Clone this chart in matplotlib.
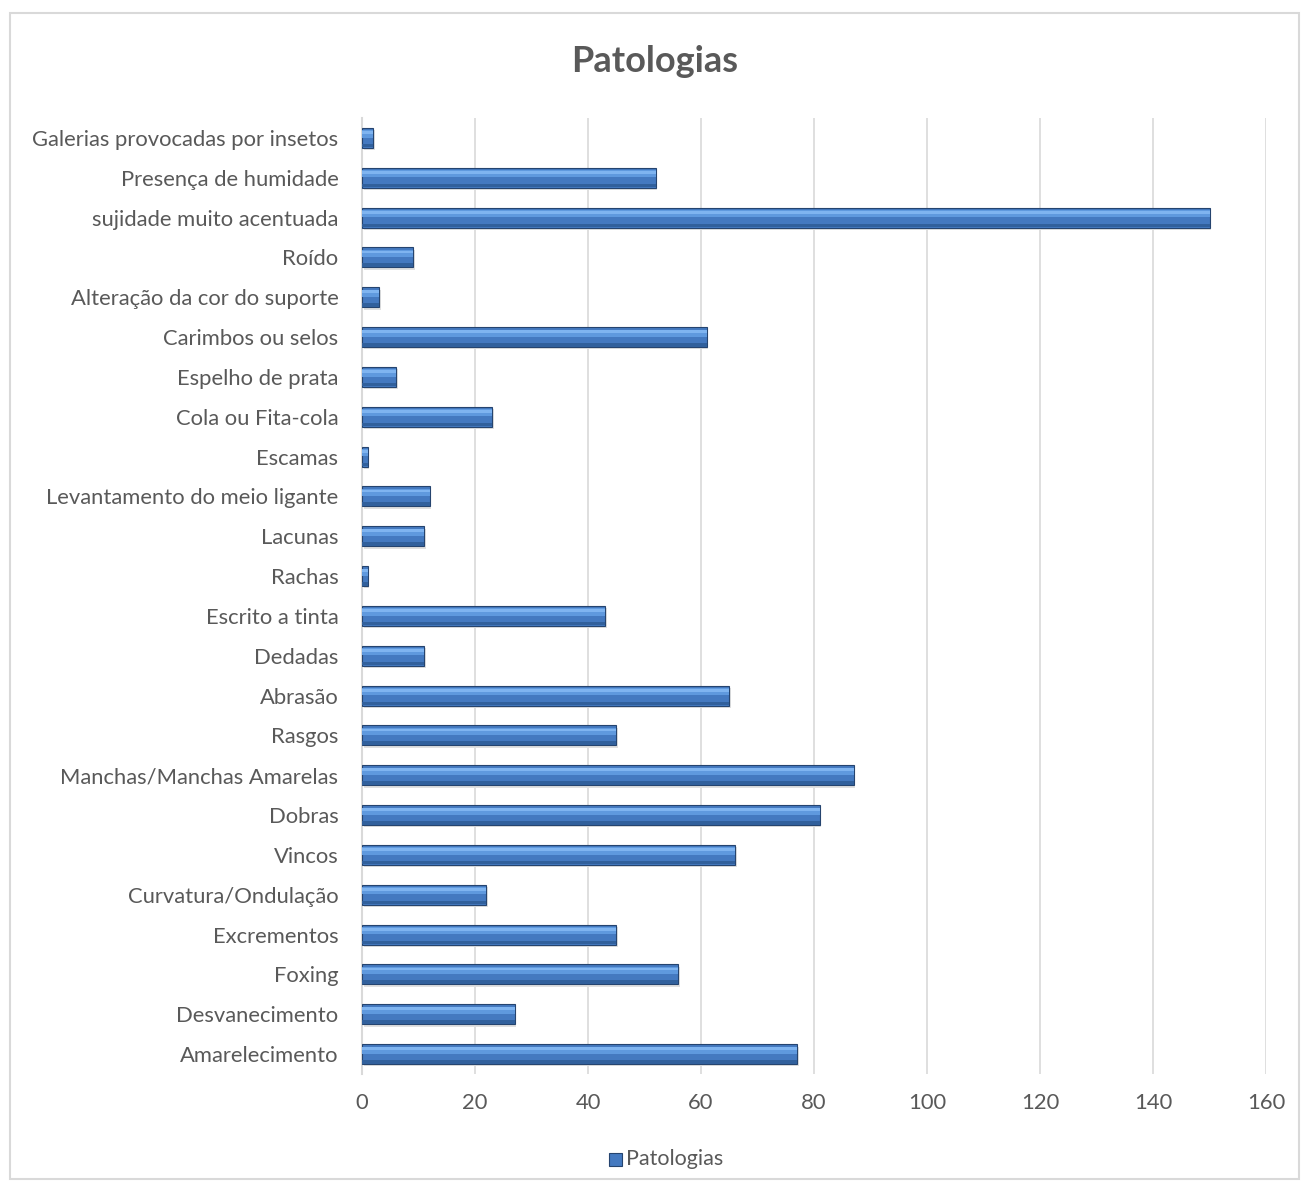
import matplotlib.pyplot as plt
from matplotlib.patches import Rectangle
import numpy as np

plt.rcParams['font.family'] = ['Lato', 'DejaVu Sans']

categorias = ['Galerias provocadas por insetos', 'Presença de humidade', 'sujidade muito acentuada',
              'Roído', 'Alteração da cor do suporte', 'Carimbos ou selos', 'Espelho de prata',
              'Cola ou Fita-cola', 'Escamas', 'Levantamento do meio ligante', 'Lacunas', 'Rachas',
              'Escrito a tinta', 'Dedadas', 'Abrasão', 'Rasgos', 'Manchas/Manchas Amarelas',
              'Dobras', 'Vincos', 'Curvatura/Ondulação', 'Excrementos', 'Foxing',
              'Desvanecimento', 'Amarelecimento']
valores = [2, 52, 150, 9, 3, 61, 6, 23, 1, 12, 11, 1, 43, 11, 65, 45, 87, 81, 66, 22, 45, 56, 27, 77]
xticks = [0, 20, 40, 60, 80, 100, 120, 140, 160]

cinza = '#595959'
fig = plt.figure(figsize=(13.09, 11.89), dpi=100)
ax = fig.add_axes([362/1309, 1 - 1074/1189, (1266-362)/1309, (1074-118)/1189])

y = np.arange(len(categorias))
h = 0.5
# shadow, base, highlight, dark bottom -> rough imitation of the bevelled excel bars
ax.barh(y + 0.06, valores, height=h, left=0.3, color='#e0e0e0', zorder=2)
ax.barh(y, valores, height=h, color='#4479c0', edgecolor='#25446f', linewidth=0.8, zorder=3)
ax.barh(y - h*0.2, valores, height=h*0.36, color='#5f99de', linewidth=0, zorder=4)
ax.barh(y - h*0.27, valores, height=h*0.14, color='#7fb4f0', linewidth=0, zorder=5)
ax.barh(y + h*0.39, valores, height=h*0.18, color='#31609c', linewidth=0, zorder=4)

ax.set_ylim(len(categorias) - 0.5, -0.5)
ax.set_xlim(0, 160)
ax.set_yticks(y)
ax.set_yticklabels(categorias)
ax.set_xticks(xticks)
ax.tick_params(axis='both', length=0, labelsize=15.8, colors=cinza, pad=17)
ax.tick_params(axis='x', pad=14)
ax.grid(axis='x', color='#d9d9d9', linewidth=1.2, zorder=0)
ax.set_axisbelow(True)
for s in ['top', 'right', 'bottom']:
    ax.spines[s].set_visible(False)
ax.spines['left'].set_color('#d9d9d9')
ax.spines['left'].set_linewidth(1.5)

fig.text(0.5, 1 - 62/1189, 'Patologias', ha='center', va='center', fontsize=26,
         fontweight='bold', color=cinza)

# legend
fig.patches.append(Rectangle((609/1309, 1 - 1166/1189), 13/1309, 13/1189, transform=fig.transFigure,
                             facecolor='#4479c0', edgecolor='#25446f', linewidth=0.8))
fig.text(626/1309, 1 - 1159/1189, 'Patologias', ha='left', va='center', fontsize=15.5, color=cinza)

fig.patches.append(Rectangle((10/1309, 10/1189), 1289/1309, 1166/1189, transform=fig.transFigure,
                             fill=False, edgecolor='#d9d9d9', linewidth=1.5))

fig.savefig('out.png', dpi=100)
